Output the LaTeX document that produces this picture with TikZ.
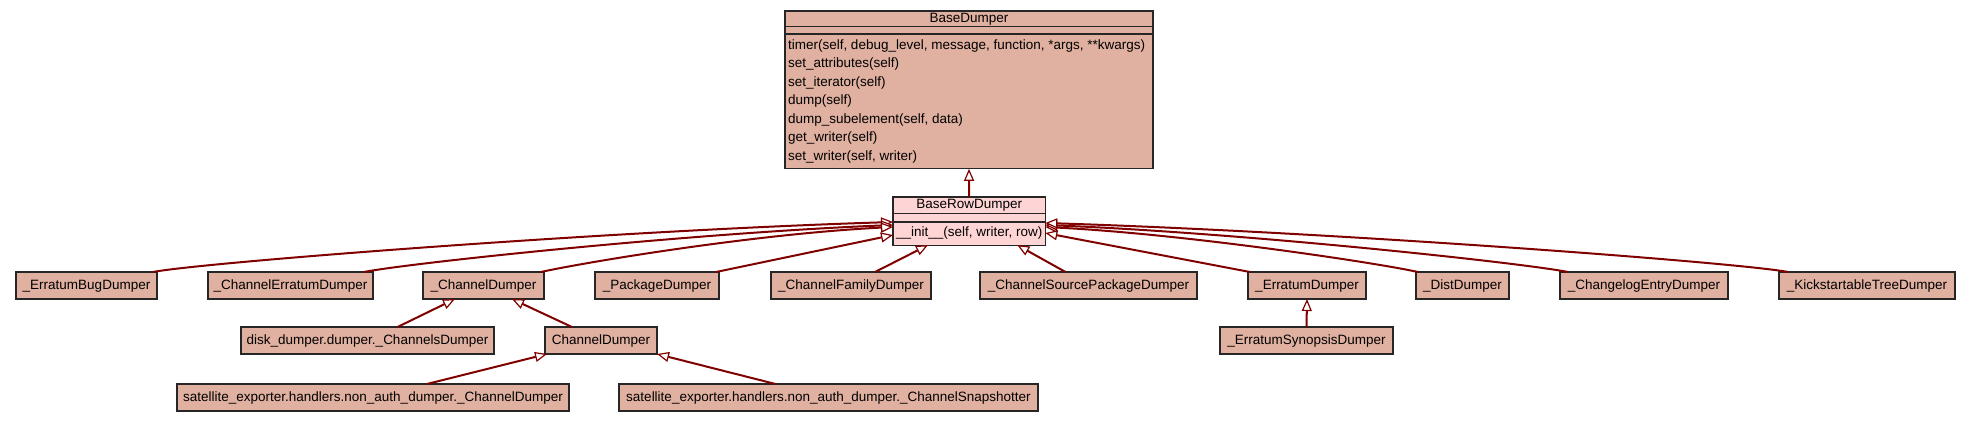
\documentclass[tikz,border=0pt]{standalone}
\usepackage{fontspec}
\setmainfont{Liberation Sans}
\usetikzlibrary{arrows.meta, shapes.multipart}

\definecolor{clsfill}{RGB}{224,176,160}
\definecolor{rowfill}{RGB}{255,212,212}
\definecolor{edgered}{RGB}{128,0,0}

\begin{document}
\begin{tikzpicture}[
  x=1pt, y=-1pt,
  font=\fontsize{13.5}{18.45}\selectfont,
  cls/.style={draw=black!85, line width=1.2pt, fill=clsfill, anchor=north west,
    minimum height=27pt, inner sep=0pt, outer sep=0pt, text height=10pt, text depth=3pt},
  umlcls/.style={draw=black!85, line width=1.2pt, anchor=north west,
    rectangle split, rectangle split parts=3,
    rectangle split part align={center,left,left},
    rectangle split empty part height=6pt, rectangle split empty part depth=0pt,
    align=left, inner xsep=3pt, inner ysep=0pt, outer sep=0pt},
  inherit/.style={draw=edgered, line width=2pt,
    -{Triangle[length=12pt, width=10pt, fill=white, line width=1.2pt]}}
]
\useasboundingbox (0,0) rectangle (1971,421);

% base classes
\node[umlcls, fill=clsfill, minimum width=368pt] (base) at (785,11)
  {\rule[-4pt]{0pt}{14.5pt}BaseDumper
   \nodepart{two}\rule{0pt}{6pt}
   \nodepart{three}\rule{0pt}{15pt}timer(self, debug\_level, message, function, *args, **kwargs)\\
   set\_attributes(self)\\
   set\_iterator(self)\\
   dump(self)\\
   dump\_subelement(self, data)\\
   get\_writer(self)\\
   set\_writer(self, writer)\rule[-8pt]{0pt}{8pt}};
\node[umlcls, fill=rowfill, minimum width=152pt] (brow) at (893,197)
  {\rule[-4.5pt]{0pt}{15.5pt}BaseRowDumper
   \nodepart{two}\rule{0pt}{7pt}
   \nodepart{three}\rule[-8pt]{0pt}{22pt}\_\_init\_\_(self, writer, row)};

% first row
\node[cls, minimum width=141pt] (ebug) at (16,272) {\_ErratumBugDumper};
\node[cls, minimum width=165pt] (cerr) at (208,272) {\_ChannelErratumDumper};
\node[cls, minimum width=121pt] (cdump) at (423,272) {\_ChannelDumper};
\node[cls, minimum width=124pt] (pkg) at (595,272) {\_PackageDumper};
\node[cls, minimum width=160pt] (cfam) at (771,272) {\_ChannelFamilyDumper};
\node[cls, minimum width=217pt] (cspkg) at (980,272) {\_ChannelSourcePackageDumper};
\node[cls, minimum width=118pt] (erratum) at (1248,272) {\_ErratumDumper};
\node[cls, minimum width=93pt] (dist) at (1416,272) {\_DistDumper};
\node[cls, minimum width=168pt] (clog) at (1560,272) {\_ChangelogEntryDumper};
\node[cls, minimum width=176pt] (kick) at (1779,272) {\_KickstartableTreeDumper};

% second row
\node[cls, minimum width=253pt] (disk) at (241,327) {disk\_dumper.dumper.\_ChannelsDumper};
\node[cls, minimum width=112pt] (chdump) at (545,327) {ChannelDumper};
\node[cls, minimum width=173pt] (esyn) at (1220,327) {\_ErratumSynopsisDumper};

% third row
\node[cls, minimum width=392pt] (satcd) at (177,384) {satellite\_exporter.handlers.non\_auth\_dumper.\_ChannelDumper};
\node[cls, minimum width=419pt] (satsnap) at (619,384) {satellite\_exporter.handlers.non\_auth\_dumper.\_ChannelSnapshotter};

% inheritance
\draw[inherit] (brow.north) -- (base.south);
\draw[inherit] ([xshift=-4pt]ebug.north east) .. controls +(45,-9) and +(-290,9) .. ([yshift=-25pt]brow.north west);
\draw[inherit] ([xshift=-9pt]cerr.north east) .. controls +(45,-9) and +(-200,8) .. ([yshift=-28pt]brow.north west);
\draw[inherit] ([xshift=-3pt]cdump.north east) .. controls +(40,-9) and +(-140,7) .. ([yshift=-30pt]brow.north west);
\draw[inherit] ([xshift=-3pt]pkg.north east) -- ([yshift=-38pt]brow.north west);
\draw[inherit] ([xshift=24pt]cfam.north) -- ([xshift=35pt]brow.south west);
\draw[inherit] ([xshift=-23pt]cspkg.north) -- ([xshift=-28pt]brow.south east);
\draw[inherit] ([xshift=2pt]erratum.north west) -- ([yshift=-36pt]brow.north east);
\draw[inherit] ([xshift=2pt]dist.north west) .. controls +(-40,-9) and +(140,7) .. ([yshift=-30pt]brow.north east);
\draw[inherit] ([xshift=8pt]clog.north west) .. controls +(-45,-9) and +(200,8) .. ([yshift=-28pt]brow.north east);
\draw[inherit] ([xshift=9pt]kick.north west) .. controls +(-45,-9) and +(290,9) .. ([yshift=-26pt]brow.north east);
\draw[inherit] ([xshift=30pt]disk.north) -- ([xshift=32pt]cdump.south west);
\draw[inherit] ([xshift=-29pt]chdump.north) -- ([xshift=-32pt]cdump.south east);
\draw[inherit] (esyn.north) -- (erratum.south);
\draw[inherit] ([xshift=54pt]satcd.north) -- ([xshift=2pt]chdump.south west);
\draw[inherit] ([xshift=-53pt]satsnap.north) -- (chdump.south east);
\end{tikzpicture}
\end{document}
